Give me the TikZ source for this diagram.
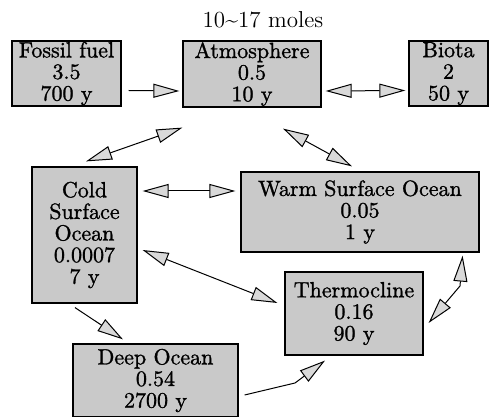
\documentclass[tikz,border=0pt]{standalone}
\usepackage{fontspec}
\usetikzlibrary{arrows.meta}
\newfontfamily\boxfont{lmroman10-regular}[Extension=.otf,FakeBold=1.2]
\tikzset{
  reservoir/.style={draw,fill=gray!42,align=center,inner sep=0pt,line width=0.6pt,
    font=\boxfont\fontsize{11}{10.8}\selectfont},
  flow/.style={line width=0.5pt},
}
\begin{document}
\begin{tikzpicture}[x=0.5pt,y=-0.5pt,>={Triangle[length=13pt,width=7pt,fill=gray!30]}]
	\useasboundingbox (0,0) rectangle (489,417);
	\node[font=\fontsize{11.5}{12}\selectfont] (title) at (263,20) {10\textasciitilde17 moles};
	% reservoirs
	\node[reservoir,minimum width=54.5pt,minimum height=32.5pt] (fossil) at (66.5,73.5) {Fossil fuel\\3.5\\700 y};
	\node[reservoir,minimum width=69pt,minimum height=33pt] (atmos) at (252,74) {Atmosphere\\0.5\\10 y};
	\node[reservoir,minimum width=39.5pt,minimum height=32.5pt] (biota) at (448.5,73.5) {Biota\\2\\50 y};
	\node[reservoir,minimum width=52.5pt,minimum height=68pt] (cold) at (84.5,235) {Cold\\Surface\\Ocean\\0.0007\\7 y};
	\node[reservoir,minimum width=119pt,minimum height=40pt] (warm) at (360,212) {Warm Surface Ocean\\0.05\\1 y};
	\node[reservoir,minimum width=69pt,minimum height=41.5pt] (thermo) at (354,313.5) {Thermocline\\0.16\\90 y};
	\node[reservoir,minimum width=82.5pt,minimum height=36.5pt] (deep) at (155.5,380.5) {Deep Ocean\\0.54\\2700 y};
	% bends
	\coordinate (deepbend) at (295,383);
	\coordinate (thermobend) at (460,286);
	% fluxes
	\draw[flow,->] ([shift={(3.5pt,-8.5pt)}]fossil.east) -- ([shift={(-1.5pt,-8.5pt)}]atmos.west);
	\draw[flow,<->] ([shift={(2pt,-8.5pt)}]atmos.east) -- ([shift={(-1.5pt,-8.5pt)}]biota.west);
	\draw[flow,<->] ([yshift=-10pt]atmos.south west) -- ([shift={(0.75pt,2.5pt)}]cold.north);
	\draw[flow,<->] ([shift={(15.5pt,-10.5pt)}]atmos.south) -- ([shift={(-4pt,2.5pt)}]warm.north);
	\draw[flow,<->] ([shift={(2.5pt,22pt)}]cold.east) -- ([shift={(-2.5pt,10.5pt)}]warm.west);
	\draw[flow,<->] ([shift={(2.5pt,-7.5pt)}]cold.east) -- ([shift={(-3.5pt,5.25pt)}]thermo.west);
	\draw[flow,->] ([shift={(-4.75pt,-2pt)}]cold.south) -- ([shift={(-16.25pt,2pt)}]deep.north);
	\draw[flow,->] ([shift={(3pt,-7.25pt)}]deep.east) -- (deepbend) -- ([shift={(-14.5pt,-2.5pt)}]thermo.south);
	\draw[flow,<->] ([shift={(2.5pt,-4.75pt)}]thermo.east) -- (thermobend) -- ([shift={(-8.5pt,-1.5pt)}]warm.south east);
\end{tikzpicture}
\end{document}
